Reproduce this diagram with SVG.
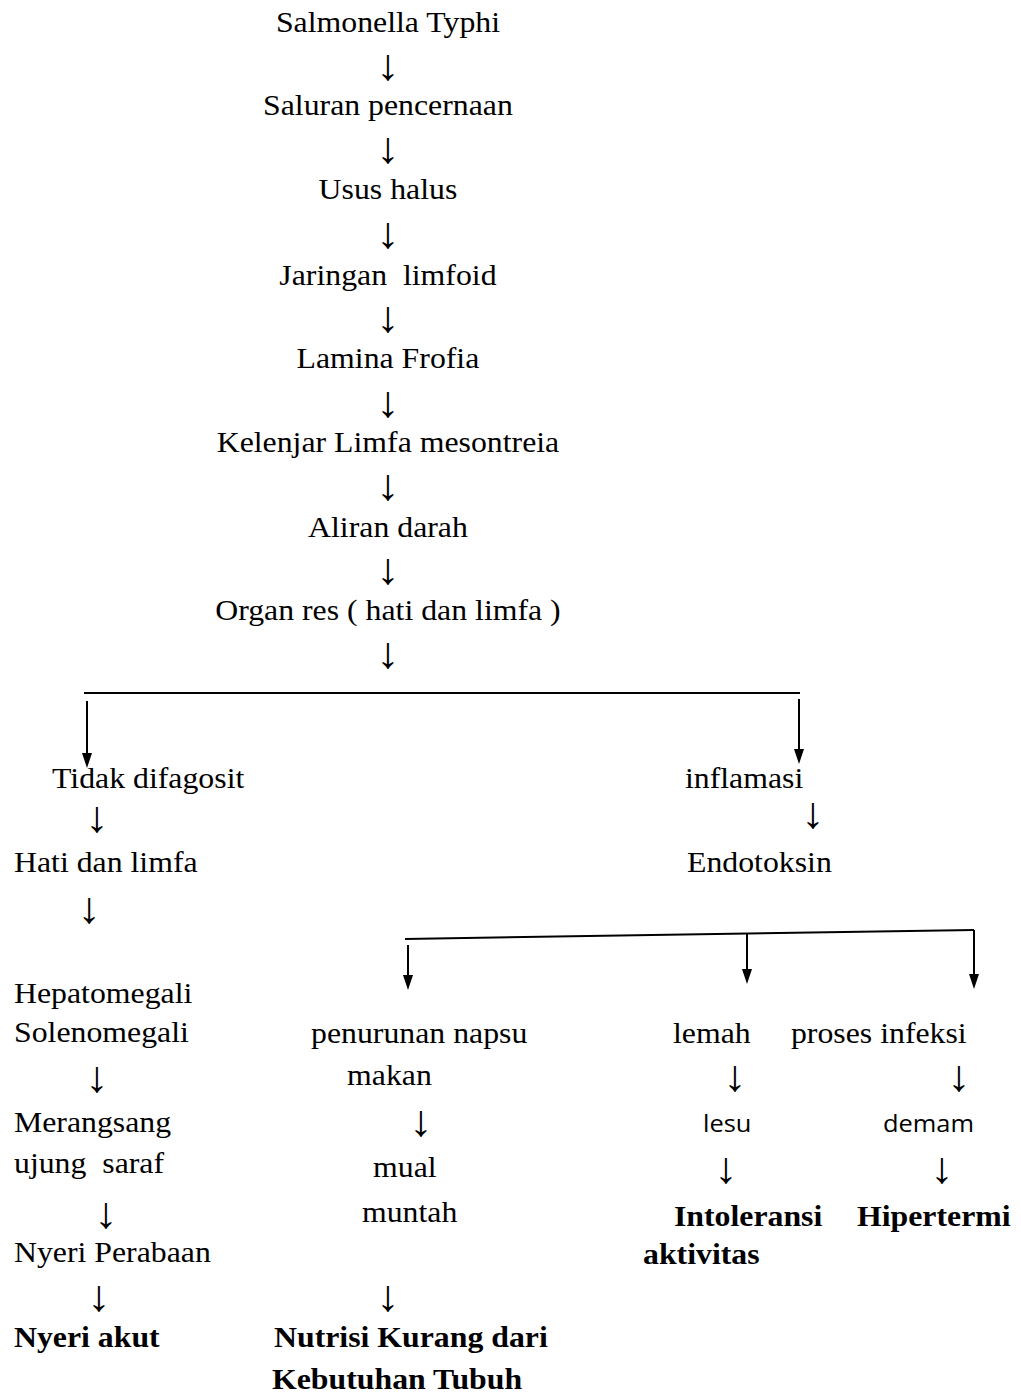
<svg xmlns="http://www.w3.org/2000/svg" width="1021" height="1395" viewBox="0 0 1021 1395">
<style>
text{font-family:"Liberation Serif","Times New Roman",serif;font-size:30px;fill:#000;white-space:pre}
.b{font-weight:bold}
.c{text-anchor:middle}
.a{text-anchor:middle;font-size:44px}
.s{font-family:"Open Sans","Liberation Sans",sans-serif;font-size:24px}
.ln{stroke:#000;stroke-width:2;fill:none}
</style>
<rect width="1021" height="1395" fill="#fff"/>
<g id="connectors">
<line class="ln" x1="84" y1="693" x2="800" y2="693"/>
<line class="ln" x1="87" y1="701" x2="87" y2="754"/>
<path d="M82,753 L92,753 L87,768 Z" fill="#000"/>
<line class="ln" x1="799" y1="699" x2="799" y2="750"/>
<path d="M794,749 L804,749 L799,764 Z" fill="#000"/>
<line class="ln" x1="405" y1="939" x2="974" y2="930"/>
<line class="ln" x1="408" y1="945" x2="408" y2="976"/>
<path d="M403,975 L413,975 L408,990 Z" fill="#000"/>
<line class="ln" x1="747" y1="934" x2="747" y2="970"/>
<path d="M742,969 L752,969 L747,984 Z" fill="#000"/>
<line class="ln" x1="974" y1="930" x2="974" y2="975"/>
<path d="M969,974 L979,974 L974,989 Z" fill="#000"/>
</g>
<g id="nodes" transform="scale(1.06 1)">
<g id="n1"><text class="c" x="366" y="32">Salmonella Typhi</text></g>
<g id="a1"><text class="a" x="366" y="80">↓</text></g>
<g id="n2"><text class="c" x="366" y="115">Saluran pencernaan</text></g>
<g id="a2"><text class="a" x="366" y="163">↓</text></g>
<g id="n3"><text class="c" x="366" y="199">Usus halus</text></g>
<g id="a3"><text class="a" x="366" y="248">↓</text></g>
<g id="n4"><text class="c" x="366" y="285">Jaringan  limfoid</text></g>
<g id="a4"><text class="a" x="366" y="332">↓</text></g>
<g id="n5"><text class="c" x="366" y="368">Lamina Frofia</text></g>
<g id="a5"><text class="a" x="366" y="417">↓</text></g>
<g id="n6"><text class="c" x="366" y="452">Kelenjar Limfa mesontreia</text></g>
<g id="a6"><text class="a" x="366" y="500">↓</text></g>
<g id="n7"><text class="c" x="366" y="537">Aliran darah</text></g>
<g id="a7"><text class="a" x="366" y="584">↓</text></g>
<g id="n8"><text class="c" x="366" y="620">Organ res ( hati dan limfa )</text></g>
<g id="a8"><text class="a" x="366" y="668">↓</text></g>

<g id="n9"><text x="49.1" y="788">Tidak difagosit</text></g>
<g id="a9"><text class="a" x="91.5" y="832">↓</text></g>
<g id="n10"><text x="13.2" y="872">Hati dan limfa</text></g>
<g id="a10"><text class="a" x="84" y="923">↓</text></g>
<g id="n11"><text x="13.2" y="1003">Hepatomegali</text><text x="13.2" y="1042">Solenomegali</text></g>
<g id="a11"><text class="a" x="91.5" y="1092">↓</text></g>
<g id="n12"><text x="13.2" y="1132">Merangsang</text><text x="13.2" y="1173">ujung  saraf</text></g>
<g id="a12"><text class="a" x="100" y="1228">↓</text></g>
<g id="n13"><text x="13.2" y="1262">Nyeri Perabaan</text></g>
<g id="a13"><text class="a" x="93.4" y="1311">↓</text></g>
<g id="n14"><text class="b" x="13.2" y="1347">Nyeri akut</text></g>

<g id="n15"><text x="293.4" y="1043">penurunan napsu</text><text x="327.4" y="1085">makan</text></g>
<g id="a15"><text class="a" x="397.2" y="1136">↓</text></g>
<g id="n16"><text x="351.9" y="1177">mual</text><text x="341.5" y="1222">muntah</text></g>
<g id="a16"><text class="a" x="366" y="1311">↓</text></g>
<g id="n17"><text class="b" x="258.5" y="1347">Nutrisi Kurang dari</text><text class="b" x="256.6" y="1389">Kebutuhan Tubuh</text></g>

<g id="n18"><text x="646.2" y="788">inflamasi</text></g>
<g id="a18"><text class="a" x="767" y="828">↓</text></g>
<g id="n19"><text x="648.1" y="872">Endotoksin</text></g>
<g id="n20"><text x="634.9" y="1043">lemah</text></g>
<g id="a20"><text class="a" x="693.4" y="1091">↓</text></g>
<g id="n21"><text class="s" x="663.2" y="1132">lesu</text></g>
<g id="a21"><text class="a" x="684.9" y="1183">↓</text></g>
<g id="n22"><text class="b" x="635.8" y="1226">Intoleransi</text><text class="b" x="606.6" y="1264">aktivitas</text></g>
<g id="n23"><text x="746.2" y="1043">proses infeksi</text></g>
<g id="a23"><text class="a" x="904.7" y="1091">↓</text></g>
<g id="n24"><text class="s" x="833" y="1132">demam</text></g>
<g id="a24"><text class="a" x="888.7" y="1183">↓</text></g>
<g id="n25"><text class="b" x="808.5" y="1226">Hipertermi</text></g>
</g>
</svg>
